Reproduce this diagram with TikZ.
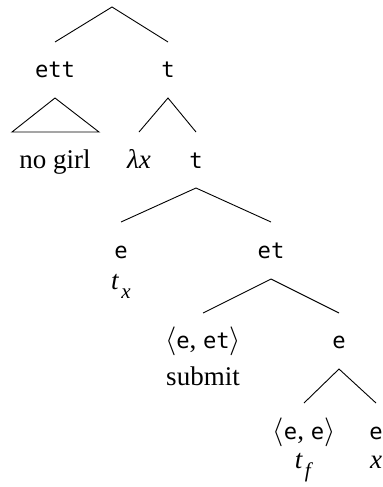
\documentclass[tikz,border=0pt]{standalone}
\usepackage{fontspec}
\setmainfont{Liberation Serif}
\setmonofont[Scale=0.82]{DejaVu Sans Mono}
\newcommand{\ty}[1]{\texttt{#1}}
\newcommand{\subit}[2]{\textit{#1}\kern0.08em\raisebox{-0.75ex}{\fontsize{10.5}{12}\selectfont\textit{#2}}}
\begin{document}
\begin{tikzpicture}[x=0.5pt,y=-0.5pt,font=\fontsize{13.5}{16}\selectfont,
  lbl/.style={anchor=base,inner sep=0pt},
  br/.style={line width=0.45pt}]
\useasboundingbox (0,0) rectangle (382,487);
\coordinate (r) at (112,7);
\coordinate (rl) at (55,42);
\coordinate (rr) at (168,42);
\node[lbl] (ett) at (55,77) {\ty{ett}};
\node[lbl] (t1) at (168,77) {\ty{t}};
\coordinate (a1) at (55,98);
\coordinate (b1l) at (12,132);
\coordinate (b1r) at (99,132);
\coordinate (a2) at (168,98);
\coordinate (b2l) at (139,132);
\coordinate (b2r) at (196,132);
\node[lbl] (nogirl) at (55,168) {no girl};
\node[lbl] (lam) at (139,168) {\textit{λx}};
\node[lbl] (t2) at (196,168) {\ty{t}};
\coordinate (a3) at (196,188);
\coordinate (b3l) at (121,222);
\coordinate (b3r) at (271,222);
\node[lbl] (e1) at (121,258) {\ty{e}};
\node[lbl] (et) at (271,258) {\ty{et}};
\node[lbl] (tx) at (121,289) {\subit{t}{x}};
\coordinate (a4) at (271,279);
\coordinate (b4l) at (203,313);
\coordinate (b4r) at (339,313);
\node[lbl] (eet) at (203,348) {$\langle$\ty{e}, \ty{et}$\rangle$};
\node[lbl] (sub) at (203,385) {submit};
\node[lbl] (e2) at (339,348) {\ty{e}};
\coordinate (a5) at (339,369);
\coordinate (b5l) at (304,403);
\coordinate (b5r) at (376,403);
\node[lbl] (ee) at (304,439) {$\langle$\ty{e}, \ty{e}$\rangle$};
\node[lbl] (e3) at (376,439) {\ty{e}};
\node[lbl] (tf) at (304,468) {\subit{t}{f}};
\node[lbl] (x) at (376,468) {\textit{x}};
\draw[br] (rl) -- (r) -- (rr);
\draw[br] (b1l) -- (a1) -- (b1r) -- cycle;
\draw[br] (b2l) -- (a2) -- (b2r);
\draw[br] (b3l) -- (a3) -- (b3r);
\draw[br] (b4l) -- (a4) -- (b4r);
\draw[br] (b5l) -- (a5) -- (b5r);
\end{tikzpicture}
\end{document}
